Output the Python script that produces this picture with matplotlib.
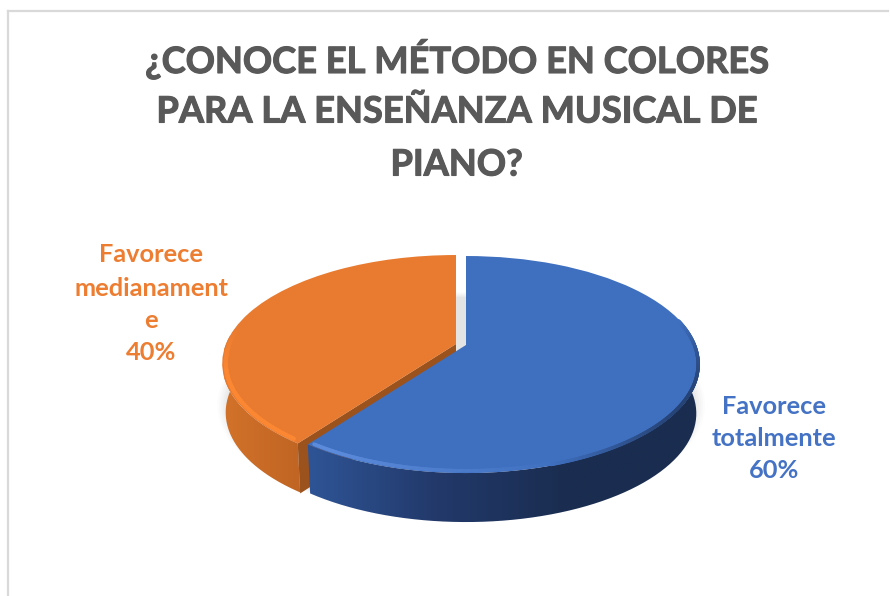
import numpy as np
import matplotlib
matplotlib.use("Agg")
import matplotlib.pyplot as plt
import matplotlib.patheffects as pe
from matplotlib.transforms import Transform
from matplotlib.patches import PathPatch, Polygon
from matplotlib.path import Path
from matplotlib.collections import LineCollection
from matplotlib.colors import LinearSegmentedColormap, to_rgb

title_lines = ["¿CONOCE EL MÉTODO EN COLORES", "PARA LA ENSEÑANZA MUSICAL DE", "PIANO?"]
categories = ["Favorece totalmente", "Favorece medianamente"]
values = [60, 40]
label_lines_blue = ["Favorece", "totalmente", "60%"]
label_lines_orange = ["Favorece", "medianament", "e", "40%"]
colors = ["#4472C4", "#ED7D31"]
face_colors = ["#3F6FBF", "#E97B30"]

K, RX, RY, DY, SX = 0.18, 230.0, 105.0, 49.0, 0.985


class Persp(Transform):
    input_dims = output_dims = 2
    has_inverse = False

    def __init__(self, cx, cy):
        super().__init__()
        self.cx, self.cy = cx, cy

    def transform_non_affine(self, v):
        v = np.asarray(v, float)
        w = 1 + K * v[:, 1]
        return np.column_stack((self.cx + RX * v[:, 0] / w, self.cy - RY * v[:, 1] / w))


P_blue, P_orange = Persp(466, 345), Persp(456, 344)


def arc(P, t1, t2, r=1.0, n=200):
    t = np.radians(np.linspace(t1, t2, n))
    return P.transform_non_affine(np.column_stack((r * np.cos(t), r * np.sin(t))))


def lower(P, pts):
    out = pts.copy()
    out[:, 0] = P.cx + (pts[:, 0] - P.cx) * SX
    out[:, 1] = pts[:, 1] + DY
    return out


fig = plt.figure(figsize=(8.9, 5.96), dpi=100, facecolor="white")
ax = fig.add_axes([0, 0, 1, 1])
wedges, _ = ax.pie(values, colors=face_colors, startangle=90, counterclock=False)
ax.set_aspect("auto")
ax.set_xlim(0, 890)
ax.set_ylim(596, 0)
ax.axis("off")

blue, orange = wedges
b1, b2 = blue.theta1, blue.theta2
o1, o2 = orange.theta1, orange.theta2
low_angle = b1 if b1 < 0 else b1 - 360
low_orange = o2 if o2 > 180 else o2 + 360

blue.set_transform(P_blue + ax.transData)
orange.set_transform(P_orange + ax.transData)
blue.set_zorder(8)
orange.set_zorder(5)
blue.set_linewidth(0)
orange.set_linewidth(0)

# soft shadow beneath the pie
for grow, a in [(10, .025), (8, .035), (6, .04), (4, .05), (2, .06), (0, .07)]:
    s = arc(P_blue, 0, 360)
    c = np.array([461, 372.0])
    s = c + (s - c) * (1 + grow / 232)
    s[:, 1] += 41
    s[:, 0] -= 5
    ax.add_patch(Polygon(s, closed=True, fc="#9a9a9a", ec="none", alpha=a, zorder=1))


def side(P, t1, t2, cols, x0, x1, z):
    top = arc(P, t1, t2)
    bot = lower(P, top)
    pts = np.vstack((top, bot[::-1]))
    cm = LinearSegmentedColormap.from_list("g", cols)
    im = ax.imshow(np.linspace(0, 1, 256)[None, :], cmap=cm, extent=(x0, x1, 560, 240),
                   aspect="auto", zorder=z, interpolation="bilinear")
    im.set_clip_path(PathPatch(Path(pts), transform=ax.transData))


def rim(P, t1, t2, base, hi, strength, z, r=0.985, lw=3.5):
    pts = arc(P, t1, t2, r=r)
    segs = np.stack((pts[:-1], pts[1:]), axis=1)
    f = np.asarray(strength(np.linspace(0, 1, len(segs))))[:, None]
    c = np.array(to_rgb(base)) * (1 - f) + np.array(to_rgb(hi)) * f
    ax.add_collection(LineCollection(segs, colors=c, linewidths=lw, zorder=z, capstyle="round"))


ax.set_xlim(0, 890)
ax.set_ylim(596, 0)

# orange body
side(P_orange, low_orange, 175, ["#d2722a", "#bf6423"], 224, 305, 3)
corner = arc(P_orange, low_orange, low_orange, n=1)
cut = np.array([[P_orange.cx, P_orange.cy], corner[0], corner[0] + [2.4, DY + 1],
                [P_orange.cx, P_orange.cy + DY]])
ax.add_patch(Polygon(cut, closed=True, fc="#9C521C", ec="none", zorder=4))
rim(P_orange, 172, low_orange - 2, face_colors[1], "#FC8733", lambda u: np.clip(u * 2.5, 0, 1), 6, lw=3)

# blue body
side(P_blue, 12, low_angle, ["#2f5597", "#22396a", "#1a2d50", "#1a2d50"], 305, 700, 7)
rim(P_blue, low_angle + 1, -70, face_colors[0], "#5C8BDC", lambda u: np.clip(1.1 - u * 1.1, 0, 1), 9, lw=2.5)
rim(P_blue, -72, 14, face_colors[0], "#203864",
    lambda u: np.clip(np.sin(np.pi * u) * 0.8, 0, .8), 9, r=0.993, lw=2.5)

# chart frame
ax.plot([8, 8], [596, 11], color="#D9D9D9", lw=1.6, zorder=0)
ax.plot([8, 888], [11, 11], color="#D9D9D9", lw=1.6, zorder=0)

for line, y in zip(title_lines, [59, 112, 165]):
    ax.text(456.5, y, line, ha="center", va="center", fontsize=26.1, fontweight="bold",
            family="Lato", color="#595959", zorder=20,
            path_effects=[pe.withStroke(linewidth=0.8, foreground="#595959")])
for line, y in zip(label_lines_orange, [255, 288, 320, 352]):
    ax.text(151, y, line, ha="center", va="center", fontsize=18.3, fontweight="bold",
            family="Lato", color=colors[1], zorder=20)
for line, y in zip(label_lines_blue, [406, 439, 471]):
    ax.text(774, y, line, ha="center", va="center", fontsize=18.3, fontweight="bold",
            family="Lato", color=colors[0], zorder=20)

fig.savefig("out.png", dpi=100, facecolor="white")
